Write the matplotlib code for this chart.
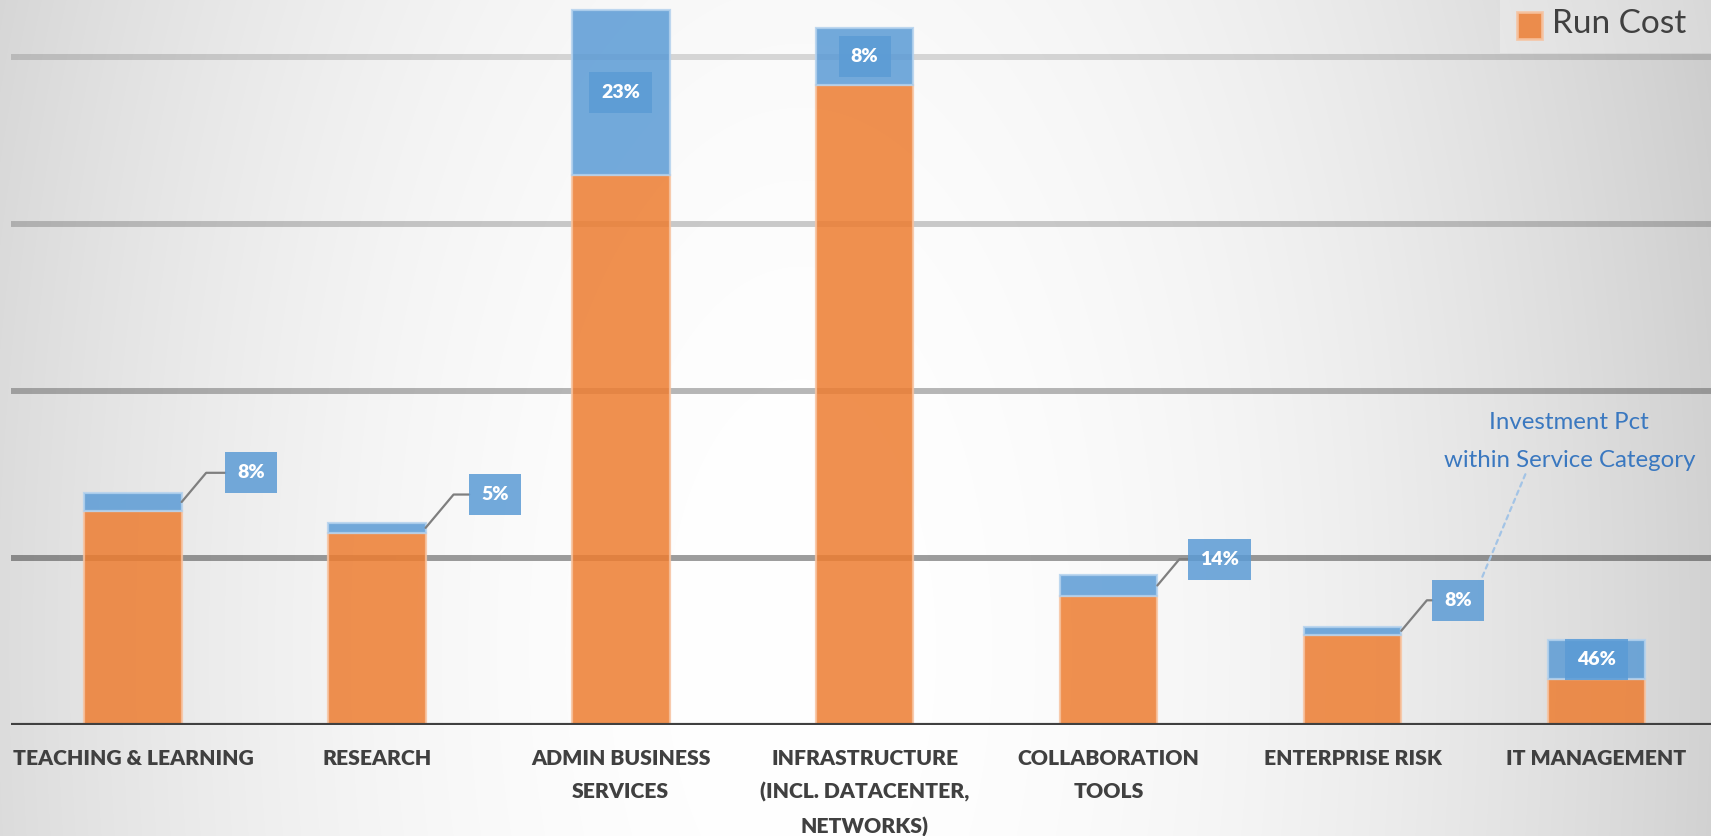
import numpy as np
import matplotlib
matplotlib.use("Agg")
import matplotlib.pyplot as plt
from matplotlib import font_manager
from matplotlib.patches import Rectangle
from matplotlib.transforms import offset_copy

# ---- data -------------------------------------------------------------
categories = [
    "TEACHING & LEARNING",
    "RESEARCH",
    "ADMIN BUSINESS\nSERVICES",
    "INFRASTRUCTURE\n(INCL. DATACENTER,\nNETWORKS)",
    "COLLABORATION\nTOOLS",
    "ENTERPRISE RISK",
    "IT MANAGEMENT",
]
run_cost = [12.8, 11.5, 32.9, 38.3, 7.7, 5.4, 2.75]
investment = [1.1, 0.6, 9.9, 3.4, 1.3, 0.47, 2.35]
grid_values = [10, 20, 30, 40]

# ---- layout of the percentage call-outs ------------------------------
label_inside = [False, False, True, True, False, False, True]
label_offsets = [(50, 21), (50, 24), None, None, (45, 19), (41, 22), None]

ORANGE = "#ED7D31"
BLUE = "#5B9BD5"
TEXT_DARK = "#404040"

available = {f.name for f in font_manager.fontManager.ttflist}
narrow = "Liberation Sans Narrow" in available
cond_family = "Liberation Sans Narrow" if narrow else "Lato"
cat_size = 16.5 if narrow else 15.2
pct_size = 15 if narrow else 14

fig = plt.figure(figsize=(17.11, 8.36), dpi=100)

# soft radial backdrop
bg = fig.add_axes([0, 0, 1, 1], zorder=-10)
H, W = 836, 1711
yy, xx = np.mgrid[0:H, 0:W]
d = np.sqrt((xx - 800.0) ** 2 + ((yy - 650.0) * 0.5) ** 2)
g = 255 - 44 * np.clip(d / 900.0, 0, 1.2) ** 2
g = np.clip(g, 200, 255) / 255.0
bg.imshow(np.dstack([g, g, g]), aspect="auto", extent=[0, 1, 0, 1])
bg.set_axis_off()

ax = fig.add_axes([0.0064, 0.1328, 0.9936, 0.8672])
ax.set_facecolor("none")

x = np.arange(len(categories))
width = 0.40
run = np.array(run_cost)
inv = np.array(investment)

# horizontal guides, darker toward the floor
for v, a in zip(grid_values, [0.38, 0.28, 0.20, 0.14]):
    ax.axhline(v, color="black", alpha=a, lw=4.3, zorder=1)

ax.bar(x, run, width, color=ORANGE, alpha=0.85, edgecolor="#F7C3A0",
       linewidth=1.6, zorder=2)
ax.bar(x, inv, width, bottom=run, color=BLUE, alpha=0.85,
       edgecolor="#B4D2EE", linewidth=1.6, zorder=2)

ax.axhline(0, color=TEXT_DARK, lw=3.0, zorder=4)

ax.set_xlim(-0.5, 6.47)
ax.set_ylim(0, 43.4)
for s in ax.spines.values():
    s.set_visible(False)
ax.set_yticks([])
ax.set_xticks(x)
ax.set_xticklabels(categories, fontfamily=cond_family, fontweight="heavy",
                   fontsize=cat_size, color=TEXT_DARK, linespacing=1.88,
                   va="top")
ax.tick_params(axis="x", length=0, pad=17)

# percentage call-outs
box = dict(boxstyle="square,pad=0.62", fc=BLUE, ec="none", alpha=0.85)
for i in range(len(categories)):
    pct = inv[i] / (run[i] + inv[i]) * 100
    txt = f"{pct:.0f}%"
    ymid = run[i] + inv[i] / 2
    if label_inside[i]:
        ax.text(x[i], ymid, txt, ha="center", va="center",
                fontfamily=cond_family, fontweight="heavy",
                fontsize=pct_size, color="white", bbox=box, zorder=6)
    else:
        ax.annotate(
            txt, xy=(x[i] + width / 2, ymid), xycoords="data",
            xytext=label_offsets[i], textcoords="offset points",
            ha="center", va="center", fontfamily=cond_family,
            fontweight="heavy", fontsize=pct_size, color="white", bbox=box,
            zorder=6,
            arrowprops=dict(arrowstyle="-", color="#7F7F7F", lw=1.6,
                            shrinkA=0, shrinkB=0,
                            connectionstyle="angle,angleA=0,angleB=50,rad=0"),
        )

# explanatory note pointing at the Enterprise Risk call-out
ent = 5
ent_anchor = (x[ent] + width / 2, run[ent] + inv[ent] / 2)
corner = offset_copy(ax.transData, fig=fig,
                     x=label_offsets[ent][0] + 17,
                     y=label_offsets[ent][1] + 16, units="points")
ax.annotate(
    "Investment Pct\nwithin Service Category",
    xy=ent_anchor, xycoords=corner,
    xytext=(63, 98), textcoords="offset points",
    ha="center", va="center", fontfamily="Lato", fontsize=17.3,
    color="#3A78C0", linespacing=2.0, zorder=6,
    arrowprops=dict(arrowstyle="-", color="#A3C4E6", lw=1.6,
                    linestyle=(0, (2, 2)), shrinkA=0, shrinkB=0,
                    relpos=(0.33, 0.0)),
)

# legend (single entry, top-right corner)
fig.patches.append(Rectangle((1500 / W, 1 - 53 / H), 211 / W, 53 / H,
                             transform=fig.transFigure, fc="white",
                             alpha=0.25, ec="none", zorder=5))
fig.patches.append(Rectangle((1517 / W, 1 - 39 / H), 25 / W, 27 / H,
                             transform=fig.transFigure, fc=ORANGE,
                             alpha=0.85, ec="#F7C3A0", lw=2, zorder=6))
fig.text(1552 / W, 1 - 24 / H, "Run Cost", ha="left", va="center",
         fontfamily="Lato", fontsize=24, color=TEXT_DARK, zorder=7)

fig.savefig("out.png", dpi=100)
